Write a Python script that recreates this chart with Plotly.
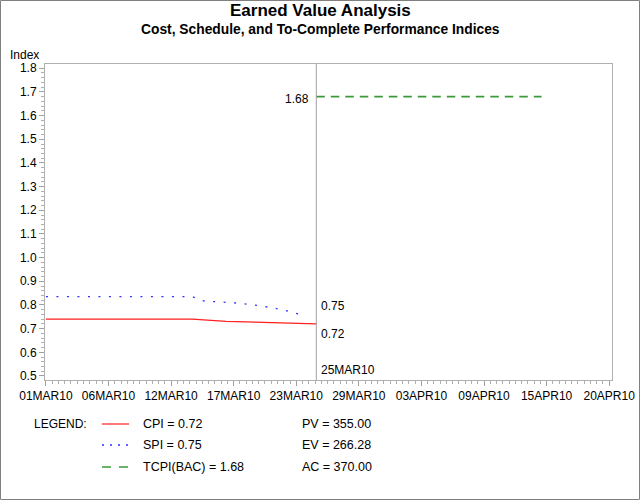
import plotly.graph_objects as go
import pandas as pd

# ---- data ----
cpi_dates = ["2010-03-01", "2010-03-14", "2010-03-17", "2010-03-20", "2010-03-25"]
cpi_vals = [0.74, 0.74, 0.731, 0.726, 0.72]

spi_dates = ["2010-03-01", "2010-03-14", "2010-03-15", "2010-03-18",
             "2010-03-20", "2010-03-22", "2010-03-24"]
spi_vals = [0.835, 0.835, 0.817, 0.808, 0.797, 0.78, 0.755]

tcpi_dates = ["2010-03-25", "2010-04-14"]
tcpi_vals = [1.68, 1.68]

status_date = "2010-03-25"
status_label = "25MAR10"

x_tick_labels = ["01MAR10", "06MAR10", "12MAR10", "17MAR10", "23MAR10",
                 "29MAR10", "03APR10", "09APR10", "15APR10", "20APR10"]
x_first, x_last = "2010-03-01", "2010-04-20"
y_tick_vals = [0.5, 0.6, 0.7, 0.8, 0.9, 1.0, 1.1, 1.2, 1.3, 1.4, 1.5, 1.6, 1.7, 1.8]

legend_items = ["CPI = 0.72", "SPI = 0.75", "TCPI(BAC) = 1.68"]
summary_items = ["PV = 355.00", "EV = 266.28", "AC = 370.00"]

title = "Earned Value Analysis"
subtitle = "Cost, Schedule, and To-Complete Performance Indices"

# ---- styling ----
FONT = "Liberation Sans, Arial, sans-serif"
RED = "#ff2020"
BLUE = "#3030ff"
GREEN = "#3a9a3a"
W, H = 640, 500
L, R, T, B = 45, 28, 64, 120
PW, PH = W - L - R, H - T - B


def px(x):
    return (x - L) / PW


def py(y):
    return (H - B - y) / PH


tick_positions = pd.date_range(x_first, x_last, periods=len(x_tick_labels))
minor_step_ms = (tick_positions[1] - tick_positions[0]).total_seconds() * 1000 / 10

fig = go.Figure()
fig.add_trace(go.Scatter(x=cpi_dates, y=cpi_vals, mode="lines",
                         line=dict(color=RED, width=1.2), showlegend=False))
fig.add_trace(go.Scatter(x=spi_dates, y=spi_vals, mode="lines",
                         line=dict(color=BLUE, width=1.3, dash="2px,8.5px"), showlegend=False))
fig.add_trace(go.Scatter(x=tcpi_dates, y=tcpi_vals, mode="lines",
                         line=dict(color=GREEN, width=1.6, dash="8.5px,6px"), showlegend=False))

shapes = []
# status date line
shapes.append(dict(type="line", xref="x", yref="paper", x0=status_date, x1=status_date,
                   y0=0, y1=1, line=dict(color="#a0a0a0", width=1)))
# outer border
shapes.append(dict(type="rect", xref="paper", yref="paper",
                   x0=px(0.5), x1=px(W - 0.5), y0=py(H - 0.5), y1=py(0.5),
                   line=dict(color="#808080", width=1)))

annotations = []
annotations.append(dict(text="<b>%s</b>" % title, xref="paper", yref="paper",
                        x=px(320), y=py(10.5), showarrow=False,
                        font=dict(family=FONT, size=17, color="black"),
                        xanchor="center", yanchor="middle"))
annotations.append(dict(text="<b>%s</b>" % subtitle, xref="paper", yref="paper",
                        x=px(320), y=py(29.5), showarrow=False,
                        font=dict(family=FONT, size=13.8, color="black"),
                        xanchor="center", yanchor="middle"))
annotations.append(dict(text="Index", xref="paper", yref="paper",
                        x=px(8), y=py(55), showarrow=False,
                        font=dict(family=FONT, size=12, color="black"),
                        xanchor="left", yanchor="middle"))
# end-of-line labels
annotations.append(dict(text=legend_items[1].split("= ")[1], xref="x", yref="y",
                        x=status_date, y=spi_vals[-1], xshift=3, yshift=10, showarrow=False,
                        font=dict(family=FONT, size=12, color="black"),
                        xanchor="left", yanchor="middle"))
annotations.append(dict(text=legend_items[0].split("= ")[1], xref="x", yref="y",
                        x=status_date, y=cpi_vals[-1], xshift=3, yshift=-10, showarrow=False,
                        font=dict(family=FONT, size=12, color="black"),
                        xanchor="left", yanchor="middle"))
annotations.append(dict(text=legend_items[2].split("= ")[1], xref="x", yref="y",
                        x=status_date, y=tcpi_vals[0], xshift=-5, yshift=-2, showarrow=False,
                        font=dict(family=FONT, size=12, color="black"),
                        xanchor="right", yanchor="middle"))
annotations.append(dict(text=status_label, xref="x", yref="paper",
                        x=status_date, y=py(370), xshift=3, showarrow=False,
                        font=dict(family=FONT, size=12, color="black"),
                        xanchor="left", yanchor="middle"))

# legend block
annotations.append(dict(text="LEGEND:", xref="paper", yref="paper",
                        x=px(32), y=py(424), showarrow=False,
                        font=dict(family=FONT, size=12, color="black"),
                        xanchor="left", yanchor="middle"))
row_y = [424, 445, 467]
styles = [dict(color=RED, width=1.2), dict(color=BLUE, width=1.3, dash="2px,6px"),
          dict(color=GREEN, width=1.6, dash="9px,8px")]
for i, label in enumerate(legend_items):
    shapes.append(dict(type="line", xref="paper", yref="paper",
                       x0=px(102), x1=px(129), y0=py(row_y[i]), y1=py(row_y[i]),
                       line=styles[i]))
    annotations.append(dict(text=label, xref="paper", yref="paper",
                            x=px(141), y=py(row_y[i]), showarrow=False,
                            font=dict(family=FONT, size=12.5, color="black"),
                            xanchor="left", yanchor="middle"))
    annotations.append(dict(text=summary_items[i], xref="paper", yref="paper",
                            x=px(300), y=py(row_y[i]), showarrow=False,
                            font=dict(family=FONT, size=12.5, color="black"),
                            xanchor="left", yanchor="middle"))

fig.update_layout(
    width=W, height=H,
    margin=dict(l=L, r=R, t=T, b=B, pad=0),
    paper_bgcolor="white", plot_bgcolor="white",
    font=dict(family=FONT, size=12, color="black"),
    shapes=shapes, annotations=annotations,
    xaxis=dict(
        type="date", automargin=False,
        range=["2010-02-28 22:00", "2010-04-20 06:00"],
        tickmode="array", tickvals=tick_positions, ticktext=x_tick_labels,
        ticks="outside", ticklen=5, tickcolor="#a0a0a0",
        showline=True, linecolor="#b0b0b0", mirror=True,
        showgrid=False, zeroline=False,
        tickfont=dict(family=FONT, size=12, color="black"),
        minor=dict(ticks="outside", ticklen=3, tickcolor="#b0b0b0",
                   tick0=x_first, dtick=minor_step_ms, showgrid=False),
    ),
    yaxis=dict(
        automargin=False,
        range=[0.483, 1.818],
        tickmode="array", tickvals=y_tick_vals,
        ticktext=["%.1f" % v for v in y_tick_vals],
        ticks="outside", ticklen=5, tickcolor="#a0a0a0",
        showline=True, linecolor="#b0b0b0", mirror=True,
        showgrid=False, zeroline=False,
        tickfont=dict(family=FONT, size=12, color="black"),
        minor=dict(ticks="outside", ticklen=3, tickcolor="#b0b0b0",
                   tick0=0.5, dtick=0.02, showgrid=False),
    ),
)

fig.write_html(
    "out.html",
    config={"displayModeBar": False},
    post_script="document.body.style.margin='0';document.body.style.overflow='hidden';",
)
